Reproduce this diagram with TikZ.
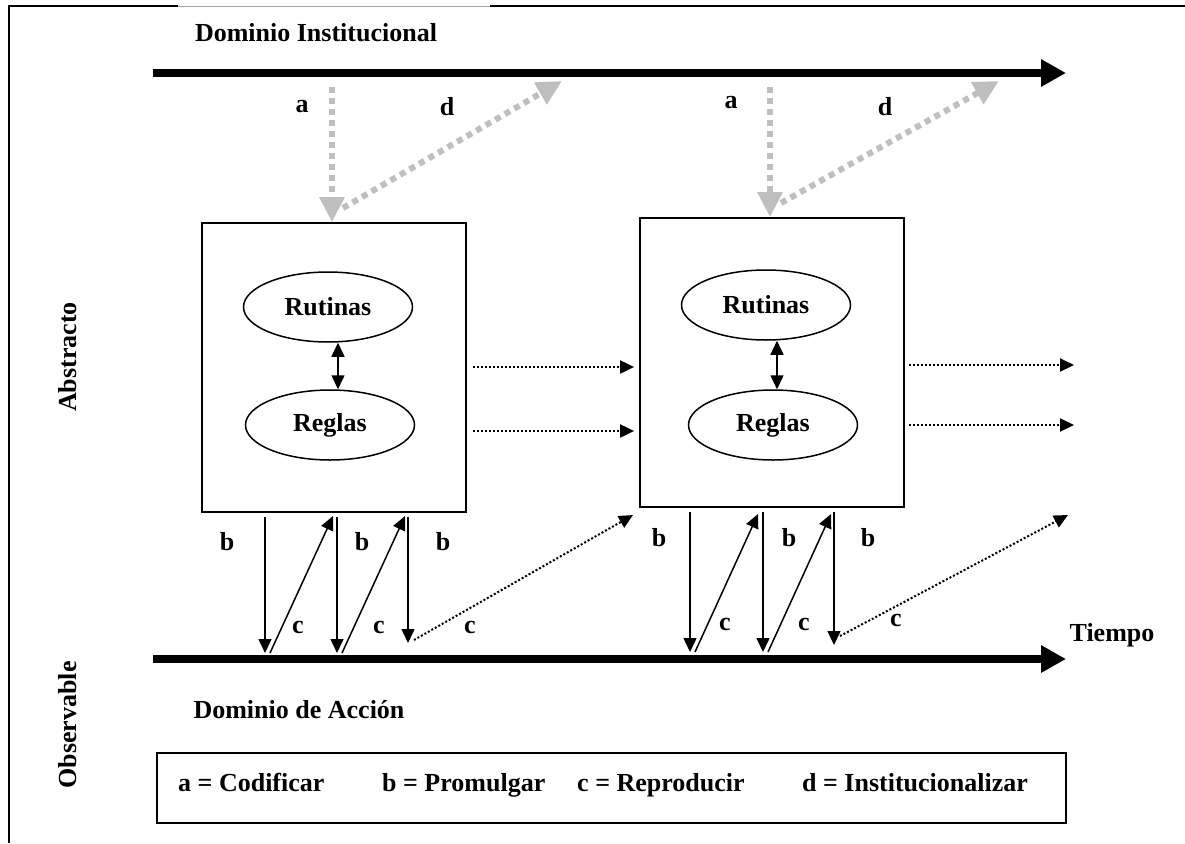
\documentclass[tikz,border=0pt]{standalone}
\usepackage{fontspec}
\setmainfont{Liberation Serif}
\usetikzlibrary{positioning,arrows.meta,shapes.geometric}

\begin{document}
\begin{tikzpicture}[x=1pt, y=-1pt,
        every node/.style={font=\fontsize{26}{30}\selectfont\bfseries, inner sep=0pt},
        caja/.style={draw, line width=1.8pt, minimum width=264pt, minimum height=289pt},
        elipse/.style={draw, ellipse, line width=1.5pt, minimum width=169pt,
                       minimum height=70pt},
        eje/.style={line width=7.5pt, -{Triangle[length=25pt,width=26pt]}},
        flecha/.style={line width=1.5pt, -{Triangle[length=14pt,width=13pt]}},
        doble/.style={line width=1.5pt,
                      {Triangle[length=14pt,width=13pt]}-{Triangle[length=14pt,width=13pt]}},
        punteada/.style={line width=2pt, dash pattern=on 2pt off 2pt,
                         -{Triangle[length=14pt,width=13pt]}},
        gris/.style={line width=6pt, draw=black!25, dash pattern=on 6pt off 5pt,
                     -{Triangle[length=25pt,width=24pt]}}
    ]
    \useasboundingbox (0,0) rectangle (1185,843);

    \draw[line width=1.6pt] (9,843) -- (9,6) -- (178,6);
    \draw[line width=0.8pt, black!35] (178,6) -- (490,6);
    \draw[line width=1.6pt] (490,6) -- (1185,6);

    \node (inst) at (316,33) {Dominio Institucional};
    \node (accion) at (299,710) {Dominio de Acción};
    \node (tiempo) at (1112,635) {Tiempo};
    \node[rotate=90] (abstracto) at (68,357) {Abstracto};
    \node[rotate=90] (observable) at (68,725) {Observable};

    \coordinate (i0) at (153,73);
    \coordinate (i1) at (1066,73);
    \coordinate (t0) at (153,659);
    \coordinate (t1) at (1066,659);
    \draw[eje] (i0) -- (i1);
    \draw[eje] (t0) -- (t1);

    \node[caja] (caja1) at (334,367.5) {};
    \node[caja] (caja2) at (772,362.5) {};
    \node[elipse] (rut1) at (328,307) {Rutinas};
    \node[elipse] (reg1) at (330,425) {Reglas};
    \node[elipse] (rut2) at (766,305) {Rutinas};
    \node[elipse] (reg2) at (773,425) {Reglas};
    \coordinate (m1) at (338,0);
    \coordinate (m2) at (777,0);
    \draw[doble] (rut1.south -| m1) -- (reg1.north -| m1);
    \draw[doble] (rut2.south -| m2) -- (reg2.north -| m2);

    \coordinate (a1) at (332,87);
    \coordinate (d1s) at (343,208);
    \coordinate (d1) at (562,81);
    \coordinate (a2) at (770,87);
    \coordinate (d2s) at (781,203);
    \coordinate (d2) at (999,81);
    \draw[gris] (a1) -- (a1 |- caja1.north);
    \draw[gris] (d1s) -- (d1);
    \draw[gris] (a2) -- (a2 |- caja2.north);
    \draw[gris] (d2s) -- (d2);
    \node (la1) at (302,107) {a};
    \node (ld1) at (447,107) {d};
    \node (la2) at (731,103) {a};
    \node (ld2) at (885,107) {d};

    \coordinate (h1) at (0,367);
    \coordinate (h2) at (0,431);
    \coordinate (f1) at (1074,365);
    \coordinate (f2) at (1074,425);
    \draw[punteada, shorten <=6pt, shorten >=5pt] (caja1.east |- h1) -- (caja2.west |- h1);
    \draw[punteada, shorten <=6pt, shorten >=5pt] (caja1.east |- h2) -- (caja2.west |- h2);
    \draw[punteada, shorten <=4pt] (caja2.east |- f1) -- (f1);
    \draw[punteada, shorten <=4pt] (caja2.east |- f2) -- (f2);

    \coordinate (p1) at (265,653);
    \coordinate (p2) at (337,653);
    \coordinate (p3) at (408,643);
    \coordinate (u1) at (270,653);
    \coordinate (v1) at (333,516);
    \coordinate (u2) at (342,653);
    \coordinate (v2) at (405,516);
    \coordinate (w1) at (414,640);
    \coordinate (z1) at (633,515);
    \draw[flecha, shorten <=4pt] (p1 |- caja1.south) -- (p1);
    \draw[flecha, shorten <=4pt] (p2 |- caja1.south) -- (p2);
    \draw[flecha, shorten <=4pt] (p3 |- caja1.south) -- (p3);
    \draw[flecha] (u1) -- (v1);
    \draw[flecha] (u2) -- (v2);
    \draw[punteada] (w1) -- (z1);
    \node (lb1) at (227,542) {b};
    \node (lb2) at (362,542) {b};
    \node (lb3) at (443,542) {b};
    \node (lc1) at (298,627) {c};
    \node (lc2) at (379,627) {c};
    \node (lc3) at (470,627) {c};

    \coordinate (p4) at (690,652);
    \coordinate (p5) at (763,652);
    \coordinate (p6) at (834,645);
    \coordinate (u3) at (695,652);
    \coordinate (v3) at (758,514);
    \coordinate (u4) at (768,652);
    \coordinate (v4) at (831,514);
    \coordinate (w2) at (840,636);
    \coordinate (z2) at (1068,515);
    \draw[flecha, shorten <=4pt] (p4 |- caja2.south) -- (p4);
    \draw[flecha, shorten <=4pt] (p5 |- caja2.south) -- (p5);
    \draw[flecha, shorten <=4pt] (p6 |- caja2.south) -- (p6);
    \draw[flecha] (u3) -- (v3);
    \draw[flecha] (u4) -- (v4);
    \draw[punteada] (w2) -- (z2);
    \node (lb4) at (659,538) {b};
    \node (lb5) at (789,538) {b};
    \node (lb6) at (868,538) {b};
    \node (lc4) at (725,624) {c};
    \node (lc5) at (804,624) {c};
    \node (lc6) at (896,620) {c};

    \node[draw, line width=1.6pt, minimum width=909pt, minimum height=70pt]
        (leyenda) at (611.5,788) {};
    \node[anchor=base west] (ka) at (178,791) {a = Codificar};
    \node[anchor=base west] (kb) at (382,791) {b = Promulgar};
    \node[anchor=base west] (kc) at (577,791) {c = Reproducir};
    \node[anchor=base west] (kd) at (802,791) {d = Institucionalizar};
\end{tikzpicture}
\end{document}
